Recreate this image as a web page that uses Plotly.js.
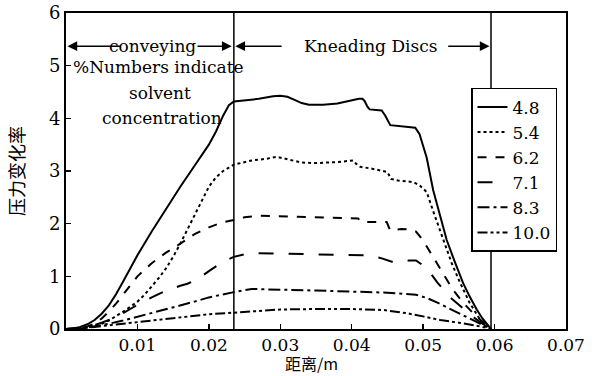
<!DOCTYPE html>
<html><head><meta charset="utf-8">
<script src="https://cdn.plot.ly/plotly-3.0.1.min.js"></script>
<style>body{margin:0;padding:0;background:#fff}#chart{width:598px;height:376px}</style>
</head><body><div id="chart"></div>
<script>
const names = ["4.8","5.4","6.2","7.1","8.3","10.0"];
const x48 = [0,0.001,0.002,0.003,0.004,0.005,0.006,0.007,0.008,0.009,0.010,0.012,0.014,0.016,0.018,0.020,0.021,0.022,0.0228,0.0235,0.027,0.029,0.030,0.031,0.032,0.033,0.034,0.036,0.038,0.040,0.041,0.0415,0.0418,0.0422,0.0425,0.0442,0.0447,0.0454,0.047,0.0489,0.0495,0.0505,0.0514,0.0524,0.0533,0.0545,0.0556,0.0565,0.0575,0.0583,0.0589,0.0595];
const y48 = [0,0.01,0.04,0.09,0.17,0.29,0.45,0.66,0.9,1.15,1.4,1.85,2.28,2.7,3.1,3.5,3.75,4.05,4.25,4.32,4.37,4.42,4.43,4.41,4.35,4.29,4.26,4.26,4.28,4.34,4.37,4.37,4.33,4.22,4.17,4.15,4.05,3.87,3.85,3.82,3.7,3.25,2.64,2.12,1.69,1.25,0.87,0.62,0.37,0.2,0.11,0];
const x54 = [0,0.001,0.002,0.003,0.004,0.005,0.006,0.007,0.008,0.009,0.010,0.011,0.012,0.013,0.014,0.015,0.016,0.017,0.018,0.019,0.020,0.021,0.022,0.0235,0.026,0.028,0.0295,0.031,0.033,0.035,0.038,0.0402,0.0406,0.0412,0.043,0.045,0.0455,0.0465,0.0486,0.0495,0.0505,0.0515,0.0528,0.054,0.0552,0.0565,0.058,0.0595];
const y54 = [0,0.003,0.01,0.03,0.06,0.1,0.16,0.24,0.33,0.42,0.52,0.65,0.8,0.97,1.15,1.37,1.62,1.88,2.15,2.43,2.7,2.88,3.0,3.12,3.2,3.23,3.27,3.22,3.16,3.15,3.17,3.2,3.14,3.08,3.04,2.98,2.85,2.82,2.79,2.73,2.6,2.2,1.69,1.25,0.87,0.5,0.17,0];
const x62 = [0,0.001,0.002,0.003,0.004,0.005,0.006,0.007,0.008,0.009,0.010,0.012,0.014,0.016,0.018,0.020,0.022,0.0235,0.025,0.0272,0.0318,0.0409,0.0414,0.0449,0.0454,0.047,0.0482,0.049,0.05,0.0514,0.0528,0.0542,0.0556,0.057,0.0583,0.0595];
const y62 = [0,0.005,0.02,0.05,0.1,0.2,0.33,0.48,0.65,0.83,1.0,1.25,1.45,1.62,1.8,1.93,2.03,2.07,2.12,2.15,2.13,2.1,2.03,2.03,1.87,1.9,1.89,1.85,1.68,1.37,1.05,0.74,0.5,0.3,0.14,0];
const x71 = [0,0.001,0.002,0.003,0.004,0.005,0.006,0.007,0.008,0.009,0.010,0.012,0.014,0.016,0.017,0.018,0.019,0.020,0.021,0.022,0.0235,0.025,0.0262,0.032,0.042,0.044,0.0458,0.048,0.049,0.0505,0.052,0.0538,0.0555,0.057,0.0583,0.0595];
const y71 = [0,0.003,0.01,0.03,0.07,0.12,0.17,0.23,0.3,0.38,0.46,0.6,0.73,0.82,0.86,0.92,1.0,1.1,1.19,1.28,1.37,1.42,1.44,1.43,1.4,1.35,1.27,1.3,1.3,1.16,0.88,0.6,0.4,0.23,0.1,0];
const x83 = [0,0.001,0.002,0.003,0.004,0.006,0.008,0.010,0.012,0.014,0.016,0.018,0.020,0.022,0.0235,0.026,0.030,0.035,0.040,0.045,0.049,0.0505,0.052,0.0535,0.055,0.057,0.0583,0.0595];
const y83 = [0,0.003,0.01,0.03,0.05,0.1,0.16,0.23,0.3,0.37,0.44,0.52,0.6,0.66,0.7,0.76,0.75,0.73,0.71,0.69,0.65,0.59,0.5,0.4,0.3,0.16,0.08,0];
const x100 = [0,0.001,0.002,0.004,0.006,0.008,0.010,0.012,0.014,0.016,0.018,0.020,0.0235,0.027,0.030,0.035,0.040,0.0445,0.0477,0.050,0.0524,0.055,0.057,0.0583,0.0595];
const y100 = [0,0.003,0.01,0.04,0.07,0.1,0.13,0.16,0.2,0.23,0.26,0.28,0.31,0.35,0.37,0.38,0.38,0.36,0.3,0.24,0.17,0.12,0.08,0.04,0];
const zoneBounds = [0.0235, 0.0595];
const xTicks = [0.01,0.02,0.03,0.04,0.05,0.06,0.07];
const yTicks = [0,1,2,3,4,5,6];

const xs = [x48,x54,x62,x71,x83,x100];
const ys = [y48,y54,y62,y71,y83,y100];
const dashes = ["solid","dot","dash","longdash","12px,4px,3px,4px","10px,3px,3px,3px,3px,3px"];
const serif = 'DejaVu Serif';

const traces = names.map((n,i)=>({
  x: xs[i], y: ys[i], name: n, type:'scatter', mode:'lines',
  line:{color:'#000', width:2, dash:dashes[i], shape:'linear'}
}));

const arrowY = 5.37;
function arrow(x0,x1){
  return {x:x1, y:arrowY, ax:x0, ay:arrowY, axref:'x', ayref:'y', xref:'x', yref:'y',
    text:'', showarrow:true, arrowhead:2, arrowsize:1.3, arrowwidth:1.5, arrowcolor:'#000'};
}
const tf = {family:serif,size:17,color:'#000'};
const annotations = [
  arrow(0.0078,0.0002), arrow(0.0182,0.0232),
  arrow(0.0304,0.0237), arrow(0.0533,0.0593),
  {x:0.0121, y:arrowY, xref:'x', yref:'y', text:'conveying', showarrow:false, font:tf},
  {x:0.0426, y:arrowY, xref:'x', yref:'y', text:'Kneading Discs', showarrow:false, font:tf},
  {x:0.0130, y:(329-67)/52.67, xref:'x', yref:'y', text:'%Numbers indicate', showarrow:false, font:tf},
  {x:0.0132, y:(329-93)/52.67, xref:'x', yref:'y', text:'solvent', showarrow:false, font:tf},
  {x:0.0134, y:(329-118)/52.67, xref:'x', yref:'y', text:'concentration', showarrow:false, font:tf},
  {x:0.49, y:(329-363)/316, xref:'paper', yref:'paper', text:'距离/m', showarrow:false, yanchor:'middle',
   font:{family:'Noto Sans CJK SC', size:16, color:'#000'}}
];

const shapes = zoneBounds.map(b=>({type:'line', xref:'x', yref:'paper', x0:b, x1:b, y0:0, y1:1, line:{color:'#000', width:1.5}}));

const layout = {
  width:598, height:376,
  margin:{l:66, r:32, t:13, b:47},
  paper_bgcolor:'#fff', plot_bgcolor:'#fff',
  showlegend:true,
  legend:{x:0.81, y:0.763, xanchor:'left', yanchor:'top', bgcolor:'#fff', bordercolor:'#000', borderwidth:1.5,
    font:{family:serif, size:17, color:'#000'}},
  xaxis:{range:[0,0.07], tickvals:xTicks, ticktext:xTicks.map(String), ticks:'inside', ticklen:5, tickwidth:1.5, tickcolor:'#000',
    showline:true, linecolor:'#000', linewidth:2, mirror:true, showgrid:false, zeroline:false,
    tickfont:{family:serif, size:17, color:'#000'}},
  yaxis:{range:[0,6], tickvals:yTicks, ticks:'inside', ticklen:5, tickwidth:1.5, tickcolor:'#000',
    showline:true, linecolor:'#000', linewidth:2, mirror:true, showgrid:false, zeroline:false,
    tickfont:{family:serif, size:18, color:'#000'},
    title:{text:'压力变化率', font:{family:'Noto Sans CJK SC', size:18, color:'#000'}, standoff:20}},
  annotations: annotations,
  shapes: shapes
};
Plotly.newPlot('chart', traces, layout, {displayModeBar:false, staticPlot:true});
</script></body></html>
